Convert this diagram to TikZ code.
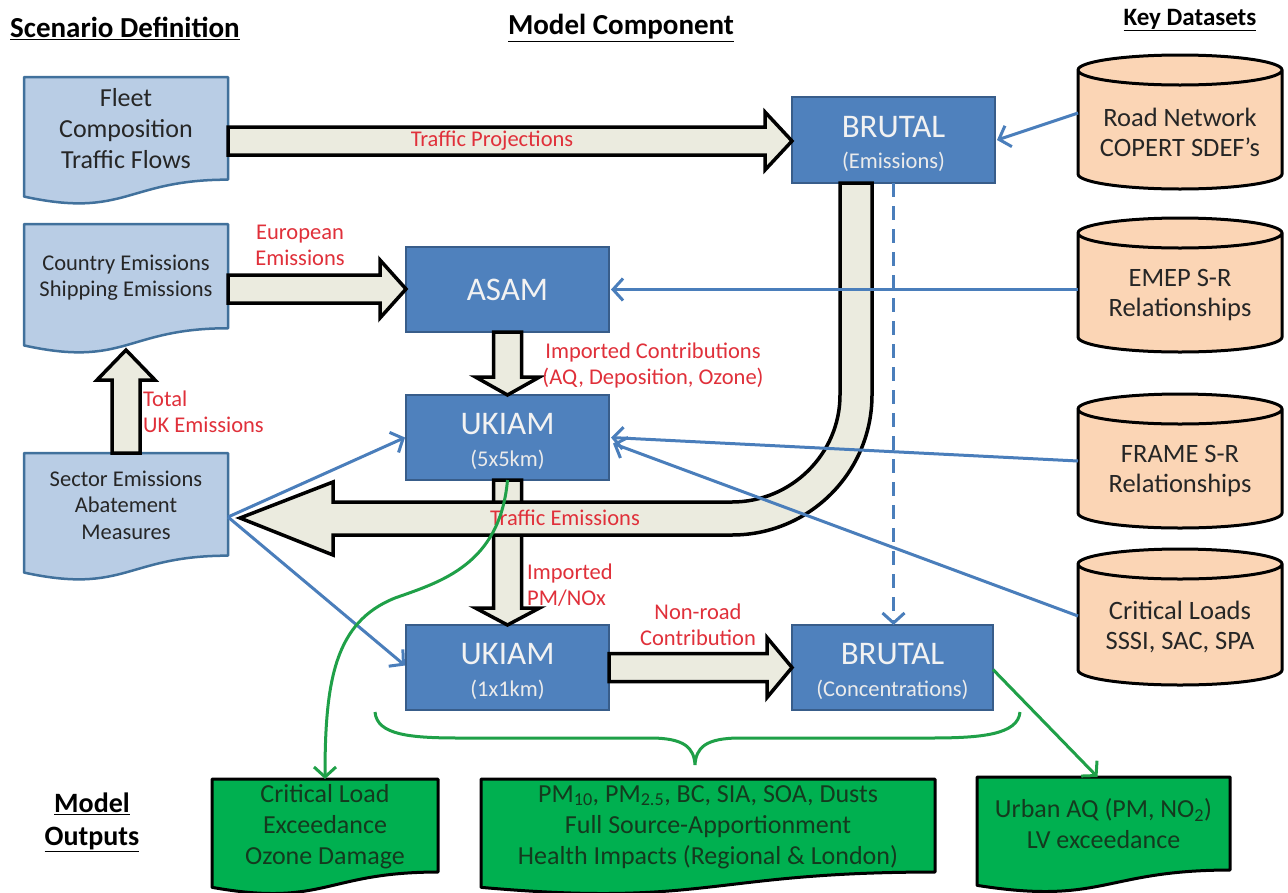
\documentclass[tikz,border=0pt]{standalone}
\usepackage{fontspec}
\setmainfont{Carlito}
\usetikzlibrary{arrows.meta,calc}
\definecolor{docfill}{HTML}{B9CDE5}
\definecolor{docdraw}{HTML}{41719C}
\definecolor{modfill}{HTML}{4F81BD}
\definecolor{moddraw}{HTML}{385D8A}
\definecolor{cylfill}{HTML}{FBD5B5}
\definecolor{arrfill}{HTML}{EBEBDF}
\definecolor{lblred}{HTML}{E0303A}
\definecolor{linkblue}{HTML}{4A7EBB}
\definecolor{linkgreen}{HTML}{1FA048}
\definecolor{outfill}{HTML}{00B050}
\definecolor{txt}{HTML}{262626}
\definecolor{outtxt}{HTML}{143A1E}

% document shape (PowerPoint flowchart document) from a holder node
\newcommand{\docshape}[2]{\draw[#2] let \p1=(#1.north west), \p2=(#1.south east), \n1={\y1-\y2}, \n2={(\x1+\x2)/2} in
  (\x1,\y1) -- (\x2,\y1) -- (\x2,{\y1-0.802*\n1}) .. controls (\n2,{\y1-0.802*\n1}) and (\n2,{\y1-1.107*\n1}) .. (\x1,{\y1-0.934*\n1}) -- cycle;}
% cylinder from a holder node
\newcommand{\cylshape}[1]{\draw[cylstyle] let \p1=(#1.north west), \p2=(#1.south east), \n1={(\x2-\x1)/2} in
  (\x1,{\y1-15}) -- (\x1,{\y2+15}) arc[start angle=180, end angle=360, x radius=\n1, y radius=15pt]
  -- (\x2,{\y1-15}) arc[start angle=0, end angle=180, x radius=\n1, y radius=15pt] -- cycle
  (\x1,{\y1-15}) arc[start angle=180, end angle=360, x radius=\n1, y radius=15pt];}
% block arrows: #1 from, #2 to, #3 half shaft, #4 half head, #5 head length
\newcommand{\rba}[5]{\draw[barrow] let \p1=(#1), \p2=(#2) in
  (\x1,{\y1+#3}) -- ({\x2-#5},{\y1+#3}) -- ({\x2-#5},{\y1+#4}) -- (\x2,\y1) -- ({\x2-#5},{\y1-#4}) -- ({\x2-#5},{\y1-#3}) -- (\x1,{\y1-#3}) -- cycle;}
\newcommand{\dba}[5]{\draw[barrow] let \p1=(#1), \p2=(#2) in
  ({\x1-#3},\y1) -- ({\x1-#3},{\y2+#5}) -- ({\x1-#4},{\y2+#5}) -- (\x1,\y2) -- ({\x1+#4},{\y2+#5}) -- ({\x1+#3},{\y2+#5}) -- ({\x1+#3},\y1) -- cycle;}
\newcommand{\uba}[5]{\draw[barrow] let \p1=(#1), \p2=(#2) in
  ({\x1-#3},\y1) -- ({\x1-#3},{\y2-#5}) -- ({\x1-#4},{\y2-#5}) -- (\x1,\y2) -- ({\x1+#4},{\y2-#5}) -- ({\x1+#3},{\y2-#5}) -- ({\x1+#3},\y1) -- cycle;}

\begin{document}
\begin{tikzpicture}[x=1pt,y=-1pt,
  holder/.style={rectangle, inner sep=0pt, outer sep=0pt},
  docstyle/.style={fill=docfill, draw=docdraw, line width=2.5pt, line join=round},
  outstyle/.style={fill=outfill, draw=black, line width=3pt, line join=round},
  cylstyle/.style={fill=cylfill, draw=black, line width=3pt},
  modbox/.style={rectangle, fill=modfill, draw=moddraw, line width=2pt, inner sep=0pt, outer sep=0pt},
  barrow/.style={fill=arrfill, draw=black, line width=3.5pt, line join=miter},
  lbl/.style={text=lblred, font=\fontsize{22.5}{26}\selectfont, align=center, inner sep=0pt},
  head/.style={text=black, font=\bfseries\fontsize{29}{34}\selectfont, inner sep=0pt},
  doctxt/.style={text=txt, align=center, inner sep=0pt},
  cyltxt/.style={text=txt, align=center, inner sep=0pt, font=\fontsize{26.5}{30}\selectfont},
  modtitle/.style={text=white!95!black, inner sep=0pt, font=\fontsize{33}{34}\selectfont},
  modsub/.style={text=white!92!black, inner sep=0pt, font=\fontsize{22.5}{24}\selectfont},
  outtext/.style={text=outtxt, align=center, inner sep=0pt, font=\fontsize{26}{31}\selectfont},
  blink/.style={draw=linkblue, line width=3pt, -{Straight Barb[length=10pt,width=22pt]}},
  glink/.style={draw=linkgreen, line width=3pt, -{Straight Barb[length=10pt,width=22pt]}},
  gline/.style={draw=linkgreen, line width=3pt}
]
\useasboundingbox (0,0) rectangle (1288,892);
\fill[white] (0,0) rectangle (1288,892);

% ---------- headings
\node[head, anchor=west] (hScen) at (10,28) {\underline{Scenario Definition}};
\node[head] (hModel) at (621,28) {\underline{Model Component}};
\node[head, font=\bfseries\fontsize{25}{30}\selectfont] (hKey) at (1190,20) {\underline{Key Datasets}};
\node[head, align=center, font=\bfseries\fontsize{28}{33}\selectfont] (hOut) at (92,822) {\underline{Model}\\\underline{Outputs}};

% ---------- holders
\node[holder, minimum width=204pt, minimum height=128pt, anchor=north west] (fleet) at (24,77) {};
\node[holder, minimum width=204pt, minimum height=130pt, anchor=north west] (country) at (24,224) {};
\node[holder, minimum width=204pt, minimum height=128pt, anchor=north west] (sector) at (24,453) {};
\node[holder, minimum width=204pt, minimum height=134pt, anchor=north west] (road) at (1078,55) {};
\node[holder, minimum width=204pt, minimum height=134pt, anchor=north west] (emep) at (1078,218) {};
\node[holder, minimum width=204pt, minimum height=134pt, anchor=north west] (frameSR) at (1078,394) {};
\node[holder, minimum width=204pt, minimum height=136pt, anchor=north west] (crit) at (1078,549) {};
\node[holder, minimum width=226pt, minimum height=116pt, anchor=north west] (clout) at (212,779) {};
\node[holder, minimum width=454pt, minimum height=116pt, anchor=north west] (pmout) at (481,779) {};
\node[holder, minimum width=253pt, minimum height=116pt, anchor=north west] (urban) at (977,777) {};

% ---------- scenario documents
\docshape{fleet}{docstyle}
\docshape{country}{docstyle}
\docshape{sector}{docstyle}
\node[doctxt, font=\fontsize{26}{31}\selectfont] at ($(fleet.center)+(0,-12)$) {Fleet\\Composition\\Traffic Flows};
\node[doctxt, font=\fontsize{22.5}{26}\selectfont] at ($(country.center)+(0,-11)$) {Country Emissions\\Shipping Emissions};
\node[doctxt, font=\fontsize{22.5}{26.5}\selectfont] at ($(sector.center)+(0,-12)$) {Sector Emissions\\Abatement\\Measures};

% ---------- datasets
\cylshape{road}
\cylshape{emep}
\cylshape{frameSR}
\cylshape{crit}
\node[cyltxt] at ($(road.center)+(0,10)$) {Road Network\\COPERT SDEF’s};
\node[cyltxt] at ($(emep.center)+(0,10)$) {EMEP S-R\\Relationships};
\node[cyltxt] at ($(frameSR.center)+(0,10)$) {FRAME S-R\\Relationships};
\node[cyltxt] at ($(crit.center)+(0,10)$) {Critical Loads\\SSSI, SAC, SPA};

% ---------- model components
\node[modbox, minimum width=203pt, minimum height=86pt, anchor=north west] (brutalE) at (792,97) {};
\node[modbox, minimum width=203pt, minimum height=85pt, anchor=north west] (asam) at (406,247) {};
\node[modbox, minimum width=203pt, minimum height=85pt, anchor=north west] (ukiam5) at (406,395) {};
\node[modbox, minimum width=203pt, minimum height=85pt, anchor=north west] (ukiam1) at (406,625) {};
\node[modbox, minimum width=201pt, minimum height=85pt, anchor=north west] (brutalC) at (792,625) {};
\node[modtitle] at ($(brutalE.center)+(0,-13)$) {BRUTAL};
\node[modsub] at ($(brutalE.center)+(0,22)$) {(Emissions)};
\node[modtitle] at (asam.center) {ASAM};
\node[modtitle] at ($(ukiam5.center)+(0,-13)$) {UKIAM};
\node[modsub] at ($(ukiam5.center)+(0,22)$) {(5x5km)};
\node[modtitle] at ($(ukiam1.center)+(0,-13)$) {UKIAM};
\node[modsub] at ($(ukiam1.center)+(0,22)$) {(1x1km)};
\node[modtitle] at ($(brutalC.center)+(0,-13)$) {BRUTAL};
\node[modsub] at ($(brutalC.center)+(0,22)$) {(Concentrations)};

% ---------- block arrows
\rba{fleet.east}{brutalE.west}{14}{29}{27}
\rba{country.east}{asam.west}{14}{29}{26}
\dba{asam.south}{ukiam5.north}{14}{32}{18}
\dba{ukiam5.south}{ukiam1.north}{14}{32}{17}
\draw[barrow] ($(brutalE.south west)+(48,0)$) -- (840,395) .. controls (840,454.1) and (791.1,502) .. (732,502)
  -- (333,502) -- (333,482) -- ($(sector.east)+(12,1)$) -- (333,555) -- (333,535) -- (732,535)
  .. controls (809.3,535) and (872,472.3) .. (872,395) -- ($(brutalE.south west)+(80,0)$) -- cycle;
\rba{ukiam1.east}{brutalC.west}{14}{30}{25}
\uba{sector.north}{$(country.south)+(0,-4)$}{14}{29}{30}

% ---------- block arrow labels
\node[lbl] at (492,141) {Traffic Projections};
\node[lbl] at (300,245) {European\\Emissions};
\node[lbl] at (653,365) {Imported Contributions\\(AQ, Deposition, Ozone)};
\node[lbl, align=left, anchor=west] at (143,412) {Total\\UK Emissions};
\node[lbl] at (565,518) {Traffic Emissions};
\node[lbl, align=left, anchor=west] at (527,585) {Imported\\PM/NOx};
\node[lbl] at (698,625) {Non-road\\Contribution};

% ---------- blue links
\draw[blink] ($(road.west)+(0,-9)$) -- ($(brutalE.east)+(2,0)$);
\draw[blink] (emep.west |- asam.east) -- ($(asam.east)+(2,0)$);
\draw[blink] (frameSR.west) -- ($(ukiam5.east)+(2,0)$);
\draw[blink] ($(crit.west)+(0,-1)$) -- ($(ukiam5.east)+(4,6)$);
\draw[blink] (sector.east) -- ($(ukiam5.west)+(-1,0)$);
\draw[blink] (sector.east) -- ($(ukiam1.west)+(-1,-2)$);
\draw[blink, dash pattern=on 14pt off 9pt] (brutalE.south) -- (brutalE.south |- brutalC.north);

% ---------- outputs
\docshape{clout}{outstyle}
\docshape{pmout}{outstyle}
\docshape{urban}{outstyle}
\node[outtext] at ($(clout.center)+(0,-10)$) {Critical Load\\Exceedance\\Ozone Damage};
\node[outtext] at ($(pmout.center)+(0,-10)$) {PM\textsubscript{10}, PM\textsubscript{2.5}, BC, SIA, SOA, Dusts\\Full Source-Apportionment\\Health Impacts (Regional \& London)};
\node[outtext] at ($(urban.center)+(0,-11)$) {Urban AQ (PM, NO\textsubscript{2})\\LV exceedance};

% ---------- green links
\draw[glink] (ukiam5.south) .. controls (500,565) and (440,582) .. (395,598)
  .. controls (335,622) and (325,680) .. (clout.north);
\draw[glink] ($(brutalC.east)+(0,2)$) -- ($(urban.north)+(-6,0)$);
\draw[gline] ($(ukiam1.south west)+(-31,2)$) .. controls (377,735) and (410,738) .. (460,738) -- (650,738)
  .. controls (685,738) and (694,748) .. (695,765) .. controls (696,748) and (705,738) .. (740,738)
  -- (930,738) .. controls (980,738) and (1018,735) .. ($(brutalC.south east)+(27,2)$);
\end{tikzpicture}
\end{document}
